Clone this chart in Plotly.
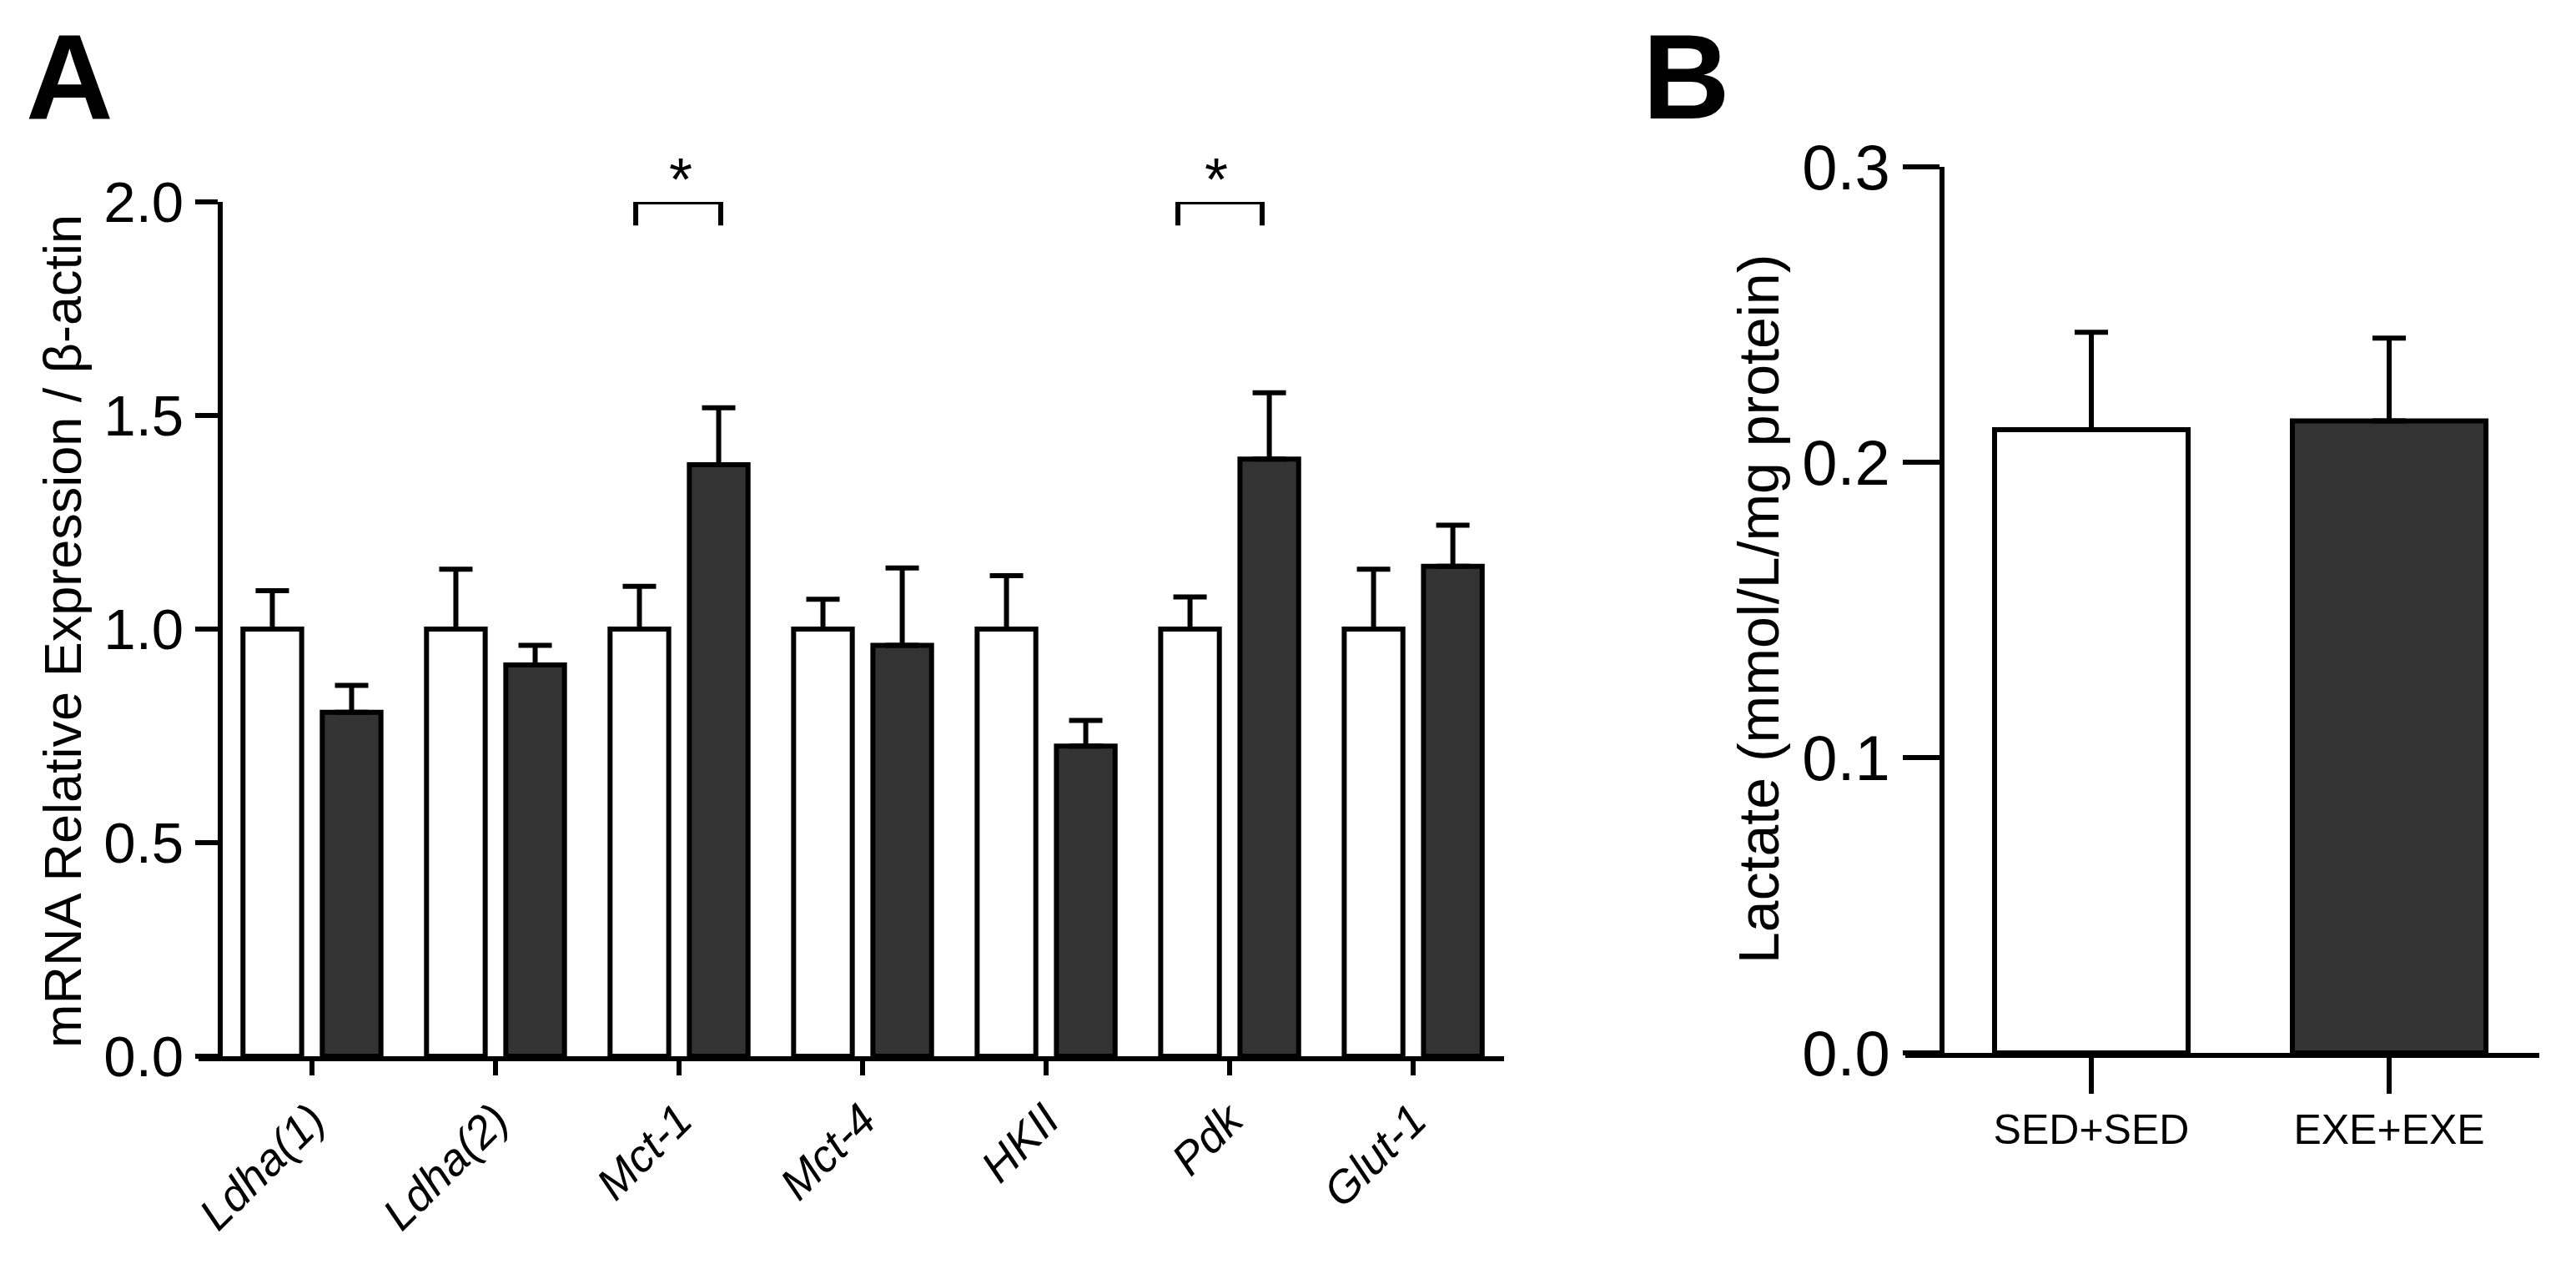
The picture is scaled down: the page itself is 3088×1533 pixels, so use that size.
import plotly.graph_objects as go

W, H = 3088, 1533

# ---------------- data ----------------
genes = ["Ldha(1)", "Ldha(2)", "Mct-1", "Mct-4", "HKII", "Pdk", "Glut-1"]
sed_vals = [1.0, 1.0, 1.0, 1.0, 1.0, 1.0, 1.0]
sed_err = [0.09, 0.14, 0.10, 0.07, 0.125, 0.075, 0.14]
exe_vals = [0.805, 0.916, 1.385, 0.962, 0.726, 1.398, 1.147]
exe_err = [0.063, 0.046, 0.133, 0.181, 0.060, 0.155, 0.096]
yticks_a = [0.0, 0.5, 1.0, 1.5, 2.0]

groups_b = ["SED+SED", "EXE+EXE"]
lactate_vals = [0.211, 0.214]
lactate_err = [0.033, 0.028]
yticks_b = [0.0, 0.1, 0.2, 0.3]

# significance brackets in data units: (x_left, x_right, y_leg_bottom, y_top, x_star, y_star)
brackets = [
    (1.764, 2.227, 1.945, 2.0, 2.01, 2.053),
    (4.718, 5.177, 1.945, 2.0, 4.927, 2.053),
]

FONT = "Liberation Sans, Arial, sans-serif"
DARK = "#333333"
OFF = 8  # page body margin
LW = 6

# panel A geometry (pixels in the picture)
A_X0, A_X1, A_YAX = 238, 1803, 264
A_Y0, A_Y1 = 1266, 242
A_XR = [-0.618, 6.495]
A_YR = [0, 2]
# panel B geometry
B_X0, B_X1, B_YAX = 2284, 3044, 2328
B_Y0, B_Y1 = 1262, 200


def px(x):
    return (x - OFF) / W


def py(y):
    return 1 - (y - OFF) / H


def a_paper(xd, yd):
    xp = A_X0 + (xd - A_XR[0]) / (A_XR[1] - A_XR[0]) * (A_X1 - A_X0)
    yp = A_Y0 + (yd - A_YR[0]) / (A_YR[1] - A_YR[0]) * (A_Y1 - A_Y0)
    return px(xp), py(yp)


fig = go.Figure()

fig.add_trace(go.Bar(
    x=genes, y=sed_vals, xaxis="x", yaxis="y",
    marker=dict(color="white", line=dict(color="black", width=LW)),
    error_y=dict(type="data", array=sed_err, arrayminus=[0] * len(sed_err),
                 symmetric=False, color="black", thickness=LW, width=20),
    name="SED",
))
fig.add_trace(go.Bar(
    x=genes, y=exe_vals, xaxis="x", yaxis="y",
    marker=dict(color=DARK, line=dict(color="black", width=LW)),
    error_y=dict(type="data", array=exe_err, arrayminus=[0] * len(exe_err),
                 symmetric=False, color="black", thickness=LW, width=20),
    name="EXE",
))
fig.add_trace(go.Bar(
    x=groups_b, y=lactate_vals, xaxis="x2", yaxis="y2", width=0.65,
    marker=dict(color=["white", DARK], line=dict(color="black", width=LW)),
    error_y=dict(type="data", array=lactate_err, arrayminus=[0, 0],
                 symmetric=False, color="black", thickness=LW, width=20),
    name="Lactate",
))

axis_common = dict(showgrid=False, zeroline=False, showline=True, linecolor="black",
                   linewidth=LW, ticks="outside", tickcolor="black", tickwidth=LW,
                   automargin=False)

fig.update_layout(
    width=W, height=H,
    margin=dict(l=0, r=0, t=0, b=0, autoexpand=False),
    paper_bgcolor="white", plot_bgcolor="rgba(0,0,0,0)",
    showlegend=False,
    barmode="group", bargap=0.136, bargroupgap=0.26,
    font=dict(family=FONT, color="black"),
    xaxis=dict(**axis_common, domain=[px(A_X0), px(A_X1)], range=A_XR,
               anchor="y", ticklen=17, tickangle=-45,
               tickfont=dict(size=54, family=FONT, style="italic")),
    yaxis=dict(**axis_common, domain=[py(A_Y0), py(A_Y1)], range=A_YR,
               anchor="free", position=px(A_YAX), ticklen=27,
               tickvals=yticks_a, ticktext=[f"{v:.1f}" for v in yticks_a],
               tickfont=dict(size=69)),
    xaxis2=dict(**axis_common, domain=[px(B_X0), px(B_X1)], range=[-0.6246, 1.504],
                anchor="y2", ticklen=43, tickfont=dict(size=50)),
    yaxis2=dict(**axis_common, domain=[py(B_Y0), py(B_Y1)], range=[0, 0.3],
                anchor="free", position=px(B_YAX), ticklen=44,
                tickvals=yticks_b, ticktext=[f"{v:.1f}" for v in yticks_b],
                tickfont=dict(size=76)),
)

shapes = []
annotations = []
for (xl, xr, yb, yt, xs, ys) in brackets:
    shapes.append(dict(type="path", xref="x", yref="y",
                       path=f"M {xl} {yb} L {xl} {yt} L {xr} {yt} L {xr} {yb}",
                       line=dict(color="black", width=LW)))
    sx, sy = a_paper(xs, ys)
    annotations.append(dict(x=sx, y=sy, xref="paper", yref="paper", text="*", showarrow=False,
                            font=dict(size=72, color="black", family=FONT),
                            xanchor="center", yanchor="middle"))

annotations += [
    dict(x=px(29), y=py(92), xref="paper", yref="paper", text="<b>A</b>", showarrow=False,
         xanchor="left", yanchor="middle", font=dict(size=145, family=FONT, color="black")),
    dict(x=px(1967), y=py(92), xref="paper", yref="paper", text="<b>B</b>", showarrow=False,
         xanchor="left", yanchor="middle", font=dict(size=145, family=FONT, color="black")),
    dict(x=px(75), y=py(757), xref="paper", yref="paper",
         text="mRNA Relative Expression / β-actin", showarrow=False, textangle=-90,
         xanchor="center", yanchor="middle", font=dict(size=63, family=FONT, color="black")),
    dict(x=px(2108), y=py(730), xref="paper", yref="paper",
         text="Lactate (mmol/L/mg protein)", showarrow=False, textangle=-90,
         xanchor="center", yanchor="middle", font=dict(size=68, family=FONT, color="black")),
]

fig.update_layout(shapes=shapes, annotations=annotations)

fig.write_html("out.html")
